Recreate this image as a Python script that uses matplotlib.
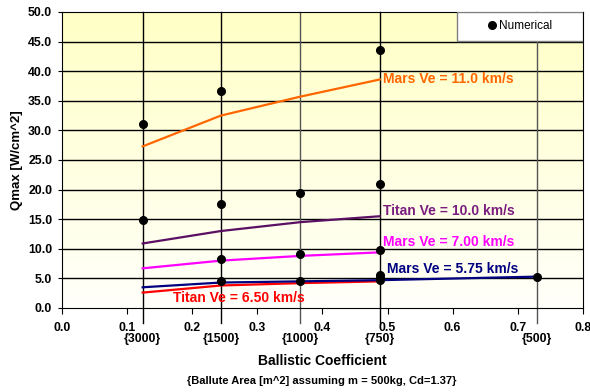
import numpy as np
import matplotlib.pyplot as plt
from matplotlib.patches import Rectangle

plt.rcParams['font.family'] = ['Liberation Sans', 'DejaVu Sans']

# ballistic coefficient for each ballute area (m = 500 kg, Cd = 1.37)
bc = [0.124, 0.244, 0.366, 0.488, 0.730]
areas = ['{3000}', '{1500}', '{1000}', '{750}', '{500}']

# numerical results
num_bc = [0.124, 0.124,
          0.244, 0.244, 0.244, 0.244,
          0.366, 0.366, 0.366,
          0.488, 0.488, 0.488, 0.488, 0.488, 0.488,
          0.730]
num_q = [31.0, 14.8,
         36.7, 17.6, 8.2, 4.6,
         19.5, 9.1, 4.5,
         43.6, 20.9, 9.8, 5.6, 5.1, 4.7,
         5.3]

# correlation curves
mars_110 = [27.3, 32.5, 35.7, 38.6]
titan_100 = [10.9, 13.0, 14.5, 15.5]
mars_700 = [6.7, 8.0, 8.8, 9.4]
mars_575 = [3.5, 4.3, 4.5, 4.7, 5.3]
titan_650 = [2.6, 3.8, 4.2, 4.5]

fig = plt.figure(figsize=(5.9, 3.92), dpi=100)
ax = fig.add_axes([0.105, 0.2143, 0.883, 0.7551])

# pale yellow background fading downwards
grad = np.linspace(1, 0, 256).reshape(-1, 1)
top = np.array([255, 255, 198]) / 255
bot = np.array([255, 255, 250]) / 255
img = grad[..., None] * top + (1 - grad[..., None]) * bot
ax.imshow(img, extent=[0, 0.8, 0, 50], aspect='auto', zorder=0)

for y in np.arange(5, 50, 5):
    ax.axhline(y, color='black', lw=1, zorder=1)

vcols = ['black', 'black', '#555555', 'black', '#555555']
for x, c in zip(bc, vcols):
    ax.axvline(x, ymin=-0.05, ymax=1, color=c, lw=1, clip_on=False, zorder=1)

ax.plot(bc[:4], mars_110, color='#FF6600', lw=1.6, zorder=2)
ax.plot(bc[:4], titan_100, color='#5A0F63', lw=1.6, zorder=2)
ax.plot(bc[:4], mars_700, color='#FF00FF', lw=1.6, zorder=2)
ax.plot(bc[:4], titan_650, color='#FF0000', lw=1.6, zorder=2)
ax.plot(bc, mars_575, color='#000080', lw=1.6, zorder=2)

ax.plot(num_bc, num_q, 'o', color='black', ms=5.5, zorder=3, label='Numerical')

fs = 10
ax.text(0.493, 38.6, 'Mars Ve = 11.0 km/s', color='#FF6600', fontsize=fs,
        fontweight='bold', va='center')
ax.text(0.493, 16.4, 'Titan Ve = 10.0 km/s', color='#7A1C7E', fontsize=fs,
        fontweight='bold', va='center')
ax.text(0.493, 11.1, 'Mars Ve = 7.00 km/s', color='#FF00FF', fontsize=fs,
        fontweight='bold', va='center')
ax.text(0.499, 6.6, 'Mars Ve = 5.75 km/s', color='#000080', fontsize=fs,
        fontweight='bold', va='center')
ax.text(0.170, 1.7, 'Titan Ve = 6.50 km/s', color='#FF0000', fontsize=fs,
        fontweight='bold', va='center')

ax.set_xlim(0, 0.8)
ax.set_ylim(0, 50)
ax.set_xticks(np.arange(0, 0.81, 0.1))
ax.set_yticks(np.arange(0, 50.1, 5))
ax.set_xticklabels([f'{v:.1f}' for v in np.arange(0, 0.81, 0.1)])
ax.set_yticklabels([f'{v:.1f}' for v in np.arange(0, 50.1, 5)])
ax.tick_params(axis='x', direction='out', length=4, pad=6, labelsize=8.8)
ax.tick_params(axis='y', direction='out', length=3, pad=4, labelsize=8.8)
for lab in ax.get_xticklabels() + ax.get_yticklabels():
    lab.set_fontweight('bold')
for s in ax.spines.values():
    s.set_color('black')

trans = ax.get_xaxis_transform()
for x, a in zip(bc, areas):
    ax.text(x, -0.106, a, transform=trans, ha='center', va='center',
            fontsize=8.8, fontweight='bold')

# legend box in the upper right corner
ax.add_patch(Rectangle((0.758, 0.902), 0.242, 0.098, transform=ax.transAxes,
                       facecolor='white', edgecolor='#808080', lw=1, zorder=4))
ax.legend(loc='center', bbox_to_anchor=(0.879, 0.951), frameon=False,
          handlelength=0.6, handletextpad=0.3, fontsize=8.5).set_zorder(5)

ax.set_ylabel('Qmax [W/cm^2]', fontsize=9.5, fontweight='bold')
ax.yaxis.set_label_coords(-0.075, 0.5)
fig.text(0.546, 0.079, 'Ballistic Coefficient', ha='center', va='center',
         fontsize=10, fontweight='bold')
fig.text(0.546, 0.028, '{Ballute Area [m^2] assuming m = 500kg, Cd=1.37}',
         ha='center', va='center', fontsize=8, fontweight='bold')

plt.savefig('out.png', dpi=100)
